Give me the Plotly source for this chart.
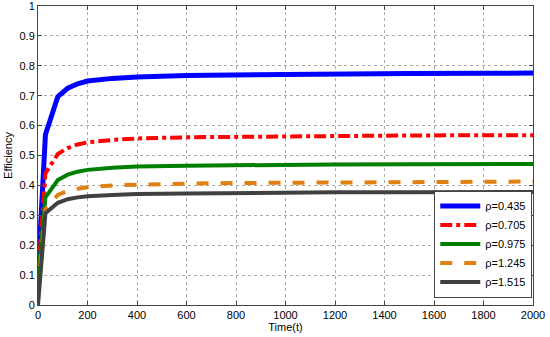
import plotly.graph_objects as go

t = [0, 30, 80, 120, 160, 200, 300, 400, 600, 800, 1000, 1200, 1500, 1800, 2000]
eff_0435 = [0.10, 0.57, 0.697, 0.725, 0.740, 0.749, 0.758, 0.763, 0.768, 0.770, 0.772, 0.773, 0.774, 0.775, 0.776]
eff_0705 = [0.10, 0.44, 0.505, 0.525, 0.537, 0.544, 0.552, 0.557, 0.561, 0.563, 0.565, 0.566, 0.567, 0.568, 0.568]
eff_0975 = [0.08, 0.36, 0.418, 0.436, 0.446, 0.452, 0.459, 0.463, 0.466, 0.468, 0.469, 0.470, 0.471, 0.472, 0.472]
eff_1245 = [0.05, 0.32, 0.368, 0.382, 0.389, 0.394, 0.400, 0.403, 0.406, 0.408, 0.409, 0.410, 0.411, 0.412, 0.413]
eff_1515 = [0.0, 0.307, 0.342, 0.354, 0.360, 0.364, 0.368, 0.371, 0.373, 0.375, 0.376, 0.377, 0.377, 0.378, 0.378]

series = [
    ("ρ=0.435", eff_0435, "#0000ff", "solid", 5),
    ("ρ=0.705", eff_0705, "#ff0000", "dashdot", 4),
    ("ρ=0.975", eff_0975, "#008000", "solid", 4),
    ("ρ=1.245", eff_1245, "#e08010", "dash", 4),
    ("ρ=1.515", eff_1515, "#404040", "solid", 4),
]

fig = go.Figure()
for name, y, c, d, w in series:
    fig.add_trace(go.Scatter(x=t, y=y, mode="lines", name=name,
                             line=dict(color=c, dash=d, width=w)))

axis_common = dict(showline=True, linecolor="#444", linewidth=1, mirror="ticks",
                   ticks="inside", ticklen=4, tickcolor="#444",
                   showgrid=True, gridcolor="#aaaaaa", griddash="dot", gridwidth=1,
                   zeroline=False, tickfont=dict(size=11, color="#000"),
                   ticklabeloverflow="allow")

fig.update_layout(
    width=550, height=337,
    margin=dict(l=38, r=17, t=6, b=32, autoexpand=False),
    paper_bgcolor="white", plot_bgcolor="white",
    font=dict(family="Liberation Sans, Arial, sans-serif", size=11, color="#000"),
    xaxis=dict(range=[0, 2000], dtick=200,
               title=dict(text="Time(t)", standoff=2, font=dict(size=11)), **axis_common),
    yaxis=dict(range=[0, 1.0001],
               tickvals=[0, 0.1, 0.2, 0.3, 0.4, 0.5, 0.6, 0.7, 0.8, 0.9, 1],
               ticktext=["0", "0.1", "0.2", "0.3", "0.4", "0.5", "0.6", "0.7", "0.8", "0.9", "1"],
               title=dict(text="Efficiency", standoff=4, font=dict(size=11)), **axis_common),
    legend=dict(x=0.9985, y=0.025, xanchor="right", yanchor="bottom",
                bgcolor="white", bordercolor="#444", borderwidth=1,
                font=dict(size=11), tracegroupgap=0, itemwidth=40),
    showlegend=True,
)

fig.write_html("out.html", config={"displayModeBar": False},
               post_script="document.body.style.margin='0';")
